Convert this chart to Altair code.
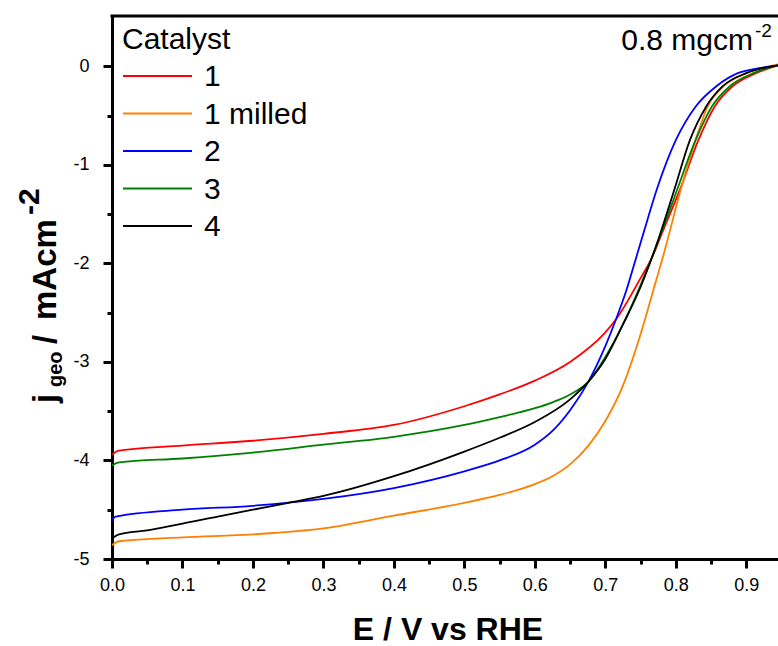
import altair as alt
import pandas as pd

# ---------------- data ----------------
names = ["1", "1 milled", "2", "3", "4"]
colors = ["#ff0000", "#ff8000", "#0000ff", "#008000", "#000000"]

e_1 = [0.0, 0.01, 0.1, 0.2, 0.3, 0.4, 0.5, 0.55, 0.6, 0.65, 0.7, 0.715, 0.75,
       0.767, 0.78, 0.806, 0.832, 0.855, 0.881, 0.914, 0.945]
j_1 = [-3.94, -3.90, -3.85, -3.80, -3.73, -3.64, -3.45, -3.33, -3.19, -3.00,
       -2.70, -2.57, -2.15, -1.93, -1.70, -1.25, -0.75, -0.41, -0.20, -0.07, 0.01]

e_1m = [0.0, 0.01, 0.1, 0.2, 0.3, 0.4, 0.5, 0.55, 0.575, 0.6, 0.625, 0.65, 0.676,
        0.7, 0.725, 0.75, 0.767, 0.785, 0.807, 0.828, 0.845, 0.868, 0.9, 0.945]
j_1m = [-4.86, -4.82, -4.78, -4.75, -4.69, -4.56, -4.43, -4.35, -4.30, -4.24,
        -4.16, -4.04, -3.85, -3.60, -3.24, -2.72, -2.30, -1.85, -1.25, -0.75,
        -0.41, -0.20, -0.07, 0.02]

e_2 = [0.0, 0.005, 0.1, 0.2, 0.3, 0.4, 0.5, 0.55, 0.6, 0.625, 0.65,
       0.676, 0.7, 0.715, 0.73, 0.743, 0.753, 0.773, 0.8, 0.828, 0.858, 0.888,
       0.918, 0.945]
j_2 = [-4.61, -4.57, -4.50, -4.46, -4.39, -4.28, -4.11, -4.00, -3.84,
       -3.70, -3.49, -3.20, -2.84, -2.57, -2.27, -1.96, -1.72, -1.25, -0.75,
       -0.41, -0.20, -0.07, -0.02, 0.01]

e_3 = [0.0, 0.01, 0.1, 0.2, 0.3, 0.4, 0.5, 0.55, 0.6, 0.625, 0.65, 0.676, 0.7,
       0.725, 0.75, 0.778, 0.802, 0.828, 0.851, 0.877, 0.91, 0.945]
j_3 = [-4.05, -4.02, -3.98, -3.92, -3.84, -3.76, -3.64, -3.56, -3.47, -3.41,
       -3.33, -3.20, -2.95, -2.62, -2.22, -1.72, -1.25, -0.75, -0.41, -0.20,
       -0.07, 0.01]

e_4 = [0.0, 0.01, 0.05, 0.08, 0.1, 0.15, 0.2, 0.25, 0.3, 0.4, 0.5, 0.55,
       0.6, 0.65, 0.676, 0.7, 0.725, 0.75, 0.776, 0.798, 0.82, 0.843, 0.867,
       0.9, 0.945]
j_4 = [-4.79, -4.75, -4.71, -4.67, -4.64, -4.57, -4.50, -4.43, -4.36, -4.16,
       -3.91, -3.77, -3.61, -3.38, -3.20, -2.97, -2.62, -2.24, -1.74, -1.25,
       -0.75, -0.41, -0.20, -0.07, 0.01]

series_e = [e_1, e_1m, e_2, e_3, e_4]
series_j = [j_1, j_1m, j_2, j_3, j_4]

x_ticks = [round(i * 0.05, 2) for i in range(19)]      # 0.00 .. 0.90
y_ticks = [round(-5 + i * 0.5, 1) for i in range(11)]   # -5 .. 0

rows = []
for name, es, js in zip(names, series_e, series_j):
    for k, (e, j) in enumerate(zip(es, js)):
        rows.append({"catalyst": name, "E": e, "j": j, "k": k})
df = pd.DataFrame(rows)

# ---------------- layout ----------------
W, H = 666, 543
FONT = "Liberation Sans"
one = pd.DataFrame({"a": [0]})

x_axis = alt.Axis(
    values=x_ticks,
    labelExpr="abs(datum.value*10 - round(datum.value*10)) < 0.001 ? format(datum.value, '.1f') : ''",
    tickSize={"condition": {"test": "abs(datum.value*10 - round(datum.value*10)) < 0.001", "value": 9}, "value": 5},
    labelPadding=8, labelFlush=False, labelOverlap=False,
    title=None, grid=False,
)
y_axis = alt.Axis(
    values=y_ticks,
    labelExpr="abs(datum.value - round(datum.value)) < 0.001 ? '' + datum.value : ''",
    tickSize={"condition": {"test": "abs(datum.value - round(datum.value)) < 0.001", "value": 9}, "value": 5},
    labelPadding=14, labelFlush=False, labelOverlap=False,
    title=None, grid=False,
)

lines = alt.Chart(df).mark_line(strokeWidth=1.8, interpolate="monotone", clip=True).encode(
    x=alt.X("E:Q", scale=alt.Scale(domain=[0, 0.945], nice=False, zero=False), axis=x_axis),
    y=alt.Y("j:Q", scale=alt.Scale(domain=[-5, 0.51], nice=False, zero=False), axis=y_axis),
    color=alt.Color("catalyst:N", scale=alt.Scale(domain=names, range=colors), legend=None),
    order="k:Q",
    detail="catalyst:N",
)

layers = [lines]

# top frame line
layers.append(alt.Chart(one).mark_rule(color="black", strokeWidth=3).encode(
    x=alt.value(-1.5), x2=alt.value(W), y=alt.value(0)))

# legend (drawn manually)
layers.append(alt.Chart(one).mark_text(text="Catalyst", font=FONT, fontSize=30,
                                       align="left", baseline="alphabetic").encode(
    x=alt.value(10), y=alt.value(33)))
for i, (name, col) in enumerate(zip(names, colors)):
    yy = 60 + i * 37.5
    layers.append(alt.Chart(one).mark_rule(color=col, strokeWidth=1.8).encode(
        x=alt.value(11), x2=alt.value(80), y=alt.value(yy)))
    layers.append(alt.Chart(one).mark_text(text=name, font=FONT, fontSize=30,
                                           align="left", baseline="middle").encode(
        x=alt.value(92), y=alt.value(yy + 1)))

# loading annotation
layers.append(alt.Chart(one).mark_text(text="0.8 mgcm", font=FONT, fontSize=30,
                                       align="right", baseline="alphabetic").encode(
    x=alt.value(641), y=alt.value(34)))
layers.append(alt.Chart(one).mark_text(text="-2", font=FONT, fontSize=19,
                                       align="left", baseline="alphabetic").encode(
    x=alt.value(643), y=alt.value(21)))

# x title
layers.append(alt.Chart(one).mark_text(text="E / V vs RHE", font=FONT, fontSize=32, fontWeight="bold",
                                       align="center", baseline="alphabetic").encode(
    x=alt.value(336), y=alt.value(624)))

# y title pieces (rotated)
def ytxt(t, size, xb, ys):
    return alt.Chart(one).mark_text(text=t, font=FONT, fontSize=size, fontWeight="bold",
                                    angle=270, align="left", baseline="alphabetic").encode(
        x=alt.value(xb), y=alt.value(ys))

layers.append(ytxt("j", 33, -56, 387))
layers.append(ytxt("geo", 20, -50, 371))
layers.append(ytxt("/", 33, -56, 328))
layers.append(ytxt("mAcm", 33, -56, 304))
layers.append(ytxt("-2", 30, -73, 199))

chart = alt.layer(*layers).properties(
    width=W, height=H,
    autosize=alt.AutoSizeParams(type="none"),
    padding={"left": 112, "top": 16, "right": 0, "bottom": 87},
).configure_view(stroke=None).configure_axis(
    domainColor="black", domainWidth=3, tickColor="black", tickWidth=3,
    labelFont=FONT, labelFontSize=18, labelColor="black",
).configure_text(font=FONT)

chart.save("out.html", embed_options={"renderer": "svg", "actions": False})
